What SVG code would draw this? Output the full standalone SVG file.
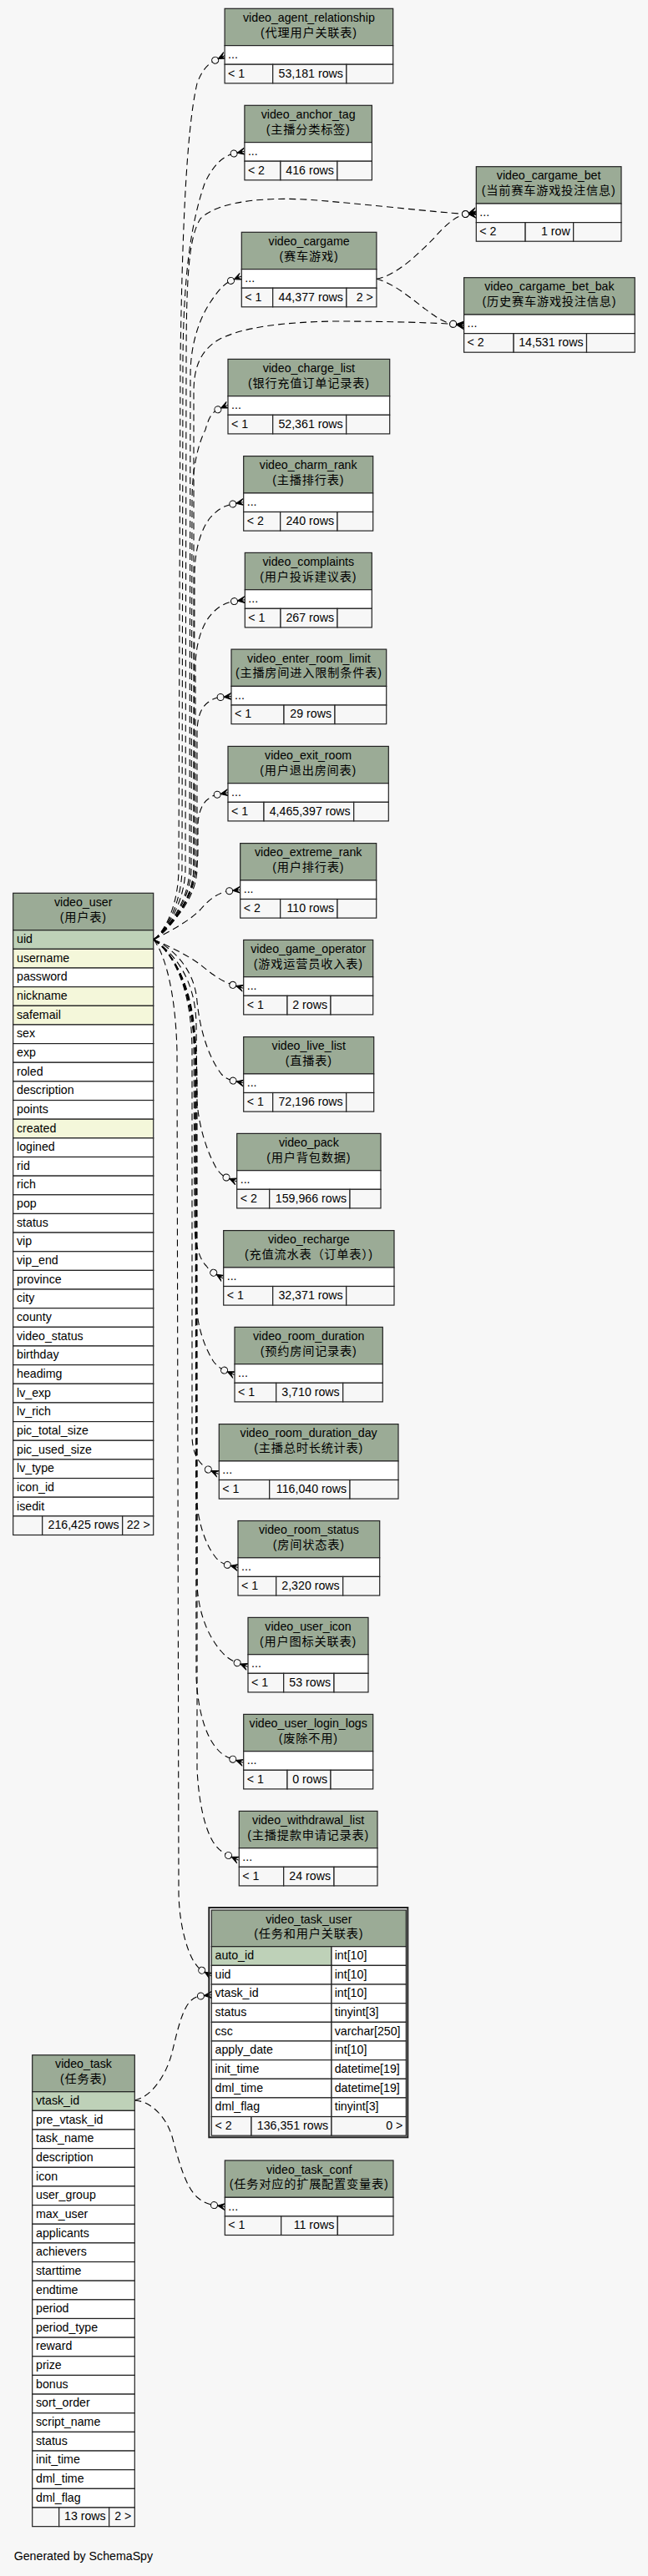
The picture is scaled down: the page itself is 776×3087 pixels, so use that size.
<svg xmlns="http://www.w3.org/2000/svg" width="776" height="3087" viewBox="0 0 776 3087">
<style>
.c{stroke:#222;stroke-width:1.2}
.h{fill:#9bab96}.w{fill:#fff}.f{fill:#f7f7f7}.pk{fill:#bed1b8}.ix{fill:#f4f7da}
text{font-family:"Liberation Sans",Arial,sans-serif;font-size:14.2px;fill:#000}
.z{font-family:"Liberation Sans","Noto Sans CJK SC",sans-serif;letter-spacing:.8px}
.m{text-anchor:middle}.r{text-anchor:end}
.e{fill:none;stroke:#000;stroke-width:1.1;stroke-dasharray:8 5;marker-end:url(#co)}
</style>
<defs>
<marker id="co" markerUnits="userSpaceOnUse" viewBox="-6 -6 22 12" markerWidth="22" markerHeight="12" refX="0" refY="0" orient="auto" overflow="visible">
<circle cx="0" cy="0" r="4" fill="#f7f7f7" stroke="#000" stroke-width="1"/>
<path d="M4,0 L13,-4 L8.5,0 L13,0 L8.5,0 L13,4 Z" fill="#000" stroke="#000" stroke-width="1" stroke-linejoin="round"/>
</marker>
</defs>
<rect width="776" height="3087" fill="#f7f7f7"/>
<g id="connectors">
<path class="e" d="M184,1126 C200,1114 214,1080 214,1040 L216,430 C218,300 222,160 236,100 C241,86 248,77 257.7,72.2"/>
<path class="e" d="M184,1126 C200,1114 218,1080 218,1040 L219,430 C220,330 228,270 245,220 C254,200 266,187 280.1,184"/>
<path class="e" d="M184,1126 C200,1114 222,1080 222,1040 L223,440 C223,330 226,285 240,262 C265,238 330,236 380,240 C450,246 520,254 557.4,256.5"/>
<path class="e" d="M184,1126 C200,1114 227,1080 227,1040 L228,450 C228,410 240,380 252,362 C260,350 268,340 276.5,336.4"/>
<path class="e" d="M184,1126 C200,1114 232,1080 232,1040 L232,470 C232,440 240,420 262,407 C290,392 340,386 400,385 C470,385 520,387 542.6,388.3"/>
<path class="e" d="M450.9,334.3 C475,330 500,305 520,285 C535,268 545,260 557.4,256.5"/>
<path class="e" d="M450.9,334.3 C475,340 500,365 520,378 C528,384 535,387 542.6,388.3"/>
<path class="e" d="M184,1126 C200,1114 229,1080 229,1040 L230,600 C230,560 238,530 246,515 C250,500 254,494 260.9,490.8"/>
<path class="e" d="M184,1126 C200,1114 232,1080 232,1040 L233,690 C233,660 240,635 252,620 C260,611 268,606 278.8,604"/>
<path class="e" d="M184,1126 C200,1114 234,1080 234,1040 L234,800 C234,770 243,745 256,733 C263,726 271,722 280.5,720.6"/>
<path class="e" d="M184,1126 C200,1114 236,1080 236,1040 L236,880 C236,860 240,848 250,841 C254,838 258,836 264.1,835.5"/>
<path class="e" d="M184,1126 C205,1115 237,1070 237,1020 L237,990 C237,975 242,962 250,957 C253,954.5 256,953 260.2,952.2"/>
<path class="e" d="M184,1126 C205,1115 225,1105 240,1090 C250,1078 262,1069 274.7,1067.7"/>
<path class="e" d="M184,1126 C205,1135 225,1145 240,1156 C252,1166 265,1176 278.8,1180.3"/>
<path class="e" d="M184,1126 C205,1135 233,1160 236,1200 C240,1240 252,1270 265,1287 C270,1292 274,1294 279.1,1295.1"/>
<path class="e" d="M184,1126 C205,1140 235,1170 235,1230 L236,1320 C238,1350 248,1380 258,1398 C262,1405 266,1409 271,1411"/>
<path class="e" d="M184,1126 C205,1140 232,1180 232,1250 L233,1470 C234,1495 240,1510 247,1517 C250,1521 252,1523 255.7,1525.2"/>
<path class="e" d="M184,1126 C205,1140 234,1180 234,1260 L235,1560 C236,1590 245,1615 256,1632 C260,1637 264,1640 268.6,1642.1"/>
<path class="e" d="M184,1126 C205,1140 230,1180 230,1260 L230,1720 C230,1738 236,1750 243,1756 C245,1758 247,1760 249.3,1761"/>
<path class="e" d="M184,1126 C205,1140 234,1180 234,1270 L235,1790 C236,1820 245,1850 258,1866 C262,1871 267,1874 272.3,1875.3"/>
<path class="e" d="M184,1126 C205,1140 235,1180 235,1280 L236,1900 C238,1935 250,1962 265,1979 C271,1986 277,1990 284.1,1992.7"/>
<path class="e" d="M184,1126 C205,1140 234,1180 234,1290 L235,2010 C237,2050 246,2080 260,2096 C266,2103 272,2106 278.8,2108.2"/>
<path class="e" d="M184,1126 C205,1140 236,1180 236,1300 L236,2120 C238,2160 245,2190 255,2207 C260,2215 266,2220 273.5,2223.5"/>
<path class="e" d="M184,1126 C195,1140 210,1180 212,1260 L214,2270 C215,2310 225,2340 233,2352 C236,2356 238,2359 241.7,2361.2"/>
<path class="e" d="M161.3,2517 C180,2513 198,2490 206,2460 C212,2435 218,2408 228,2398 C232,2394 236,2392.5 240.4,2392"/>
<path class="e" d="M161.3,2517 C180,2518 198,2535 206,2560 C214,2590 222,2620 236,2633 C243,2639 249,2641.5 256.5,2642.6"/>
</g>

<g id="video_agent_relationship">
<rect class="c h" x="269.1" y="10.3" width="201.6" height="44.3"/><rect class="c w" x="269.1" y="54.6" width="201.6" height="22.6"/>
<rect class="c f" x="269.1" y="77.2" width="57.6" height="22.6"/><rect class="c f" x="326.7" y="77.2" width="88.2" height="22.6"/><rect class="c f" x="414.9" y="77.2" width="55.8" height="22.6"/>
<text class="m" x="369.9" y="25.8">video_agent_relationship</text><text class="z m" x="369.9" y="43.6">(代理用户关联表)</text>
<text x="273.1" y="69.9">...</text><text x="273.1" y="92.5">&lt; 1</text><text class="r" x="410.9" y="92.5">53,181 rows</text>
</g>
<g id="video_anchor_tag">
<rect class="c h" x="292.9" y="126.3" width="152.5" height="44.3"/><rect class="c w" x="292.9" y="170.6" width="152.5" height="22.6"/>
<rect class="c f" x="292.9" y="193.2" width="43" height="22.6"/><rect class="c f" x="335.9" y="193.2" width="68" height="22.6"/><rect class="c f" x="403.9" y="193.2" width="41.5" height="22.6"/>
<text class="m" x="369.15" y="141.8">video_anchor_tag</text><text class="z m" x="369.15" y="159.6">(主播分类标签)</text>
<text x="296.9" y="185.9">...</text><text x="296.9" y="208.5">&lt; 2</text><text class="r" x="399.9" y="208.5">416 rows</text>
</g>
<g id="video_cargame_bet">
<rect class="c h" x="570.3" y="199.7" width="173.7" height="44.3"/><rect class="c w" x="570.3" y="244" width="173.7" height="22.6"/>
<rect class="c f" x="570.3" y="266.6" width="58.8" height="22.6"/><rect class="c f" x="629.1" y="266.6" width="57.6" height="22.6"/><rect class="c f" x="686.7" y="266.6" width="57.3" height="22.6"/>
<text class="m" x="657.15" y="215.2">video_cargame_bet</text><text class="z m" x="657.15" y="233">(当前赛车游戏投注信息)</text>
<text x="574.3" y="259.3">...</text><text x="574.3" y="281.9">&lt; 2</text><text class="r" x="682.7" y="281.9">1 row</text>
</g>
<g id="video_cargame">
<rect class="c h" x="289.3" y="278.3" width="161.6" height="44.3"/><rect class="c w" x="289.3" y="322.6" width="161.6" height="22.6"/>
<rect class="c f" x="289.3" y="345.2" width="37.4" height="22.6"/><rect class="c f" x="326.7" y="345.2" width="88.2" height="22.6"/><rect class="c f" x="414.9" y="345.2" width="36" height="22.6"/>
<text class="m" x="370.1" y="293.8">video_cargame</text><text class="z m" x="370.1" y="311.6">(赛车游戏)</text>
<text x="293.3" y="337.9">...</text><text x="293.3" y="360.5">&lt; 1</text><text class="r" x="410.9" y="360.5">44,377 rows</text><text class="r" x="446.9" y="360.5">2 &gt;</text>
</g>
<g id="video_cargame_bet_bak">
<rect class="c h" x="555.6" y="332.7" width="204.6" height="44.3"/><rect class="c w" x="555.6" y="377" width="204.6" height="22.6"/>
<rect class="c f" x="555.6" y="399.6" width="59.5" height="22.6"/><rect class="c f" x="615.1" y="399.6" width="87.4" height="22.6"/><rect class="c f" x="702.5" y="399.6" width="57.7" height="22.6"/>
<text class="m" x="657.9" y="348.2">video_cargame_bet_bak</text><text class="z m" x="657.9" y="366">(历史赛车游戏投注信息)</text>
<text x="559.6" y="392.3">...</text><text x="559.6" y="414.9">&lt; 2</text><text class="r" x="698.5" y="414.9">14,531 rows</text>
</g>
<g id="video_charge_list">
<rect class="c h" x="273" y="430.4" width="193.7" height="44.3"/><rect class="c w" x="273" y="474.7" width="193.7" height="22.6"/>
<rect class="c f" x="273" y="497.3" width="53.7" height="22.6"/><rect class="c f" x="326.7" y="497.3" width="88" height="22.6"/><rect class="c f" x="414.7" y="497.3" width="52" height="22.6"/>
<text class="m" x="369.85" y="445.9">video_charge_list</text><text class="z m" x="369.85" y="463.7">(银行充值订单记录表)</text>
<text x="277" y="490">...</text><text x="277" y="512.6">&lt; 1</text><text class="r" x="410.7" y="512.6">52,361 rows</text>
</g>
<g id="video_charm_rank">
<rect class="c h" x="291.7" y="546.6" width="155" height="44.3"/><rect class="c w" x="291.7" y="590.9" width="155" height="22.6"/>
<rect class="c f" x="291.7" y="613.5" width="44" height="22.6"/><rect class="c f" x="335.7" y="613.5" width="68.3" height="22.6"/><rect class="c f" x="404" y="613.5" width="42.7" height="22.6"/>
<text class="m" x="369.2" y="562.1">video_charm_rank</text><text class="z m" x="369.2" y="579.9">(主播排行表)</text>
<text x="295.7" y="606.2">...</text><text x="295.7" y="628.8">&lt; 2</text><text class="r" x="400" y="628.8">240 rows</text>
</g>
<g id="video_complaints">
<rect class="c h" x="293.3" y="662.4" width="152" height="44.3"/><rect class="c w" x="293.3" y="706.7" width="152" height="22.6"/>
<rect class="c f" x="293.3" y="729.3" width="42.7" height="22.6"/><rect class="c f" x="336" y="729.3" width="68" height="22.6"/><rect class="c f" x="404" y="729.3" width="41.3" height="22.6"/>
<text class="m" x="369.3" y="677.9">video_complaints</text><text class="z m" x="369.3" y="695.7">(用户投诉建议表)</text>
<text x="297.3" y="722">...</text><text x="297.3" y="744.6">&lt; 1</text><text class="r" x="400" y="744.6">267 rows</text>
</g>
<g id="video_enter_room_limit">
<rect class="c h" x="277" y="778.1" width="185.7" height="44.3"/><rect class="c w" x="277" y="822.4" width="185.7" height="22.6"/>
<rect class="c f" x="277" y="845" width="63" height="22.6"/><rect class="c f" x="340" y="845" width="61" height="22.6"/><rect class="c f" x="401" y="845" width="61.7" height="22.6"/>
<text class="m" x="369.85" y="793.6">video_enter_room_limit</text><text class="z m" x="369.85" y="811.4">(主播房间进入限制条件表)</text>
<text x="281" y="837.7">...</text><text x="281" y="860.3">&lt; 1</text><text class="r" x="397" y="860.3">29 rows</text>
</g>
<g id="video_exit_room">
<rect class="c h" x="273" y="894.4" width="192.3" height="44.3"/><rect class="c w" x="273" y="938.7" width="192.3" height="22.6"/>
<rect class="c f" x="273" y="961.3" width="43" height="22.6"/><rect class="c f" x="316" y="961.3" width="107.7" height="22.6"/><rect class="c f" x="423.7" y="961.3" width="41.6" height="22.6"/>
<text class="m" x="369.15" y="909.9">video_exit_room</text><text class="z m" x="369.15" y="927.7">(用户退出房间表)</text>
<text x="277" y="954">...</text><text x="277" y="976.6">&lt; 1</text><text class="r" x="419.7" y="976.6">4,465,397 rows</text>
</g>
<g id="video_extreme_rank">
<rect class="c h" x="287.7" y="1010.6" width="163" height="44.3"/><rect class="c w" x="287.7" y="1054.9" width="163" height="22.6"/>
<rect class="c f" x="287.7" y="1077.5" width="48" height="22.6"/><rect class="c f" x="335.7" y="1077.5" width="68.3" height="22.6"/><rect class="c f" x="404" y="1077.5" width="46.7" height="22.6"/>
<text class="m" x="369.2" y="1026.1">video_extreme_rank</text><text class="z m" x="369.2" y="1043.9">(用户排行表)</text>
<text x="291.7" y="1070.2">...</text><text x="291.7" y="1092.8">&lt; 2</text><text class="r" x="400" y="1092.8">110 rows</text>
</g>
<g id="video_game_operator">
<rect class="c h" x="291.7" y="1126.4" width="155" height="44.3"/><rect class="c w" x="291.7" y="1170.7" width="155" height="22.6"/>
<rect class="c f" x="291.7" y="1193.3" width="52.3" height="22.6"/><rect class="c f" x="344" y="1193.3" width="52" height="22.6"/><rect class="c f" x="396" y="1193.3" width="50.7" height="22.6"/>
<text class="m" x="369.2" y="1141.9">video_game_operator</text><text class="z m" x="369.2" y="1159.7">(游戏运营员收入表)</text>
<text x="295.7" y="1186">...</text><text x="295.7" y="1208.6">&lt; 1</text><text class="r" x="392" y="1208.6">2 rows</text>
</g>
<g id="video_live_list">
<rect class="c h" x="291.7" y="1242.6" width="156" height="44.3"/><rect class="c w" x="291.7" y="1286.9" width="156" height="22.6"/>
<rect class="c f" x="291.7" y="1309.5" width="35" height="22.6"/><rect class="c f" x="326.7" y="1309.5" width="88" height="22.6"/><rect class="c f" x="414.7" y="1309.5" width="33" height="22.6"/>
<text class="m" x="369.7" y="1258.1">video_live_list</text><text class="z m" x="369.7" y="1275.9">(直播表)</text>
<text x="295.7" y="1302.2">...</text><text x="295.7" y="1324.8">&lt; 1</text><text class="r" x="410.7" y="1324.8">72,196 rows</text>
</g>
<g id="video_pack">
<rect class="c h" x="283.7" y="1358.4" width="172.3" height="44.3"/><rect class="c w" x="283.7" y="1402.7" width="172.3" height="22.6"/>
<rect class="c f" x="283.7" y="1425.3" width="39" height="22.6"/><rect class="c f" x="322.7" y="1425.3" width="96.3" height="22.6"/><rect class="c f" x="419" y="1425.3" width="37" height="22.6"/>
<text class="m" x="369.85" y="1373.9">video_pack</text><text class="z m" x="369.85" y="1391.7">(用户背包数据)</text>
<text x="287.7" y="1418">...</text><text x="287.7" y="1440.6">&lt; 2</text><text class="r" x="415" y="1440.6">159,966 rows</text>
</g>
<g id="video_recharge">
<rect class="c h" x="267.7" y="1474.6" width="204.3" height="44.3"/><rect class="c w" x="267.7" y="1518.9" width="204.3" height="22.6"/>
<rect class="c f" x="267.7" y="1541.5" width="59" height="22.6"/><rect class="c f" x="326.7" y="1541.5" width="88" height="22.6"/><rect class="c f" x="414.7" y="1541.5" width="57.3" height="22.6"/>
<text class="m" x="369.85" y="1490.1">video_recharge</text><text class="z m" x="369.85" y="1507.9">(充值流水表（订单表）)</text>
<text x="271.7" y="1534.2">...</text><text x="271.7" y="1556.8">&lt; 1</text><text class="r" x="410.7" y="1556.8">32,371 rows</text>
</g>
<g id="video_room_duration">
<rect class="c h" x="281" y="1590.4" width="177.3" height="44.3"/><rect class="c w" x="281" y="1634.7" width="177.3" height="22.6"/>
<rect class="c f" x="281" y="1657.3" width="49.7" height="22.6"/><rect class="c f" x="330.7" y="1657.3" width="80" height="22.6"/><rect class="c f" x="410.7" y="1657.3" width="47.6" height="22.6"/>
<text class="m" x="369.65" y="1605.9">video_room_duration</text><text class="z m" x="369.65" y="1623.7">(预约房间记录表)</text>
<text x="285" y="1650">...</text><text x="285" y="1672.6">&lt; 1</text><text class="r" x="406.7" y="1672.6">3,710 rows</text>
</g>
<g id="video_room_duration_day">
<rect class="c h" x="262.3" y="1706.6" width="214.7" height="44.3"/><rect class="c w" x="262.3" y="1750.9" width="214.7" height="22.6"/>
<rect class="c f" x="262.3" y="1773.5" width="60.4" height="22.6"/><rect class="c f" x="322.7" y="1773.5" width="96.3" height="22.6"/><rect class="c f" x="419" y="1773.5" width="58" height="22.6"/>
<text class="m" x="369.65" y="1722.1">video_room_duration_day</text><text class="z m" x="369.65" y="1739.9">(主播总时长统计表)</text>
<text x="266.3" y="1766.2">...</text><text x="266.3" y="1788.8">&lt; 1</text><text class="r" x="415" y="1788.8">116,040 rows</text>
</g>
<g id="video_room_status">
<rect class="c h" x="285" y="1822.5" width="169.7" height="44.3"/><rect class="c w" x="285" y="1866.8" width="169.7" height="22.6"/>
<rect class="c f" x="285" y="1889.4" width="45.7" height="22.6"/><rect class="c f" x="330.7" y="1889.4" width="80" height="22.6"/><rect class="c f" x="410.7" y="1889.4" width="44" height="22.6"/>
<text class="m" x="369.85" y="1838">video_room_status</text><text class="z m" x="369.85" y="1855.8">(房间状态表)</text>
<text x="289" y="1882.1">...</text><text x="289" y="1904.7">&lt; 1</text><text class="r" x="406.7" y="1904.7">2,320 rows</text>
</g>
<g id="video_user_icon">
<rect class="c h" x="297" y="1938.4" width="144" height="44.3"/><rect class="c w" x="297" y="1982.7" width="144" height="22.6"/>
<rect class="c f" x="297" y="2005.3" width="42.7" height="22.6"/><rect class="c f" x="339.7" y="2005.3" width="60.3" height="22.6"/><rect class="c f" x="400" y="2005.3" width="41" height="22.6"/>
<text class="m" x="369" y="1953.9">video_user_icon</text><text class="z m" x="369" y="1971.7">(用户图标关联表)</text>
<text x="301" y="1998">...</text><text x="301" y="2020.6">&lt; 1</text><text class="r" x="396" y="2020.6">53 rows</text>
</g>
<g id="video_user_login_logs">
<rect class="c h" x="291.7" y="2054.4" width="155" height="44.3"/><rect class="c w" x="291.7" y="2098.7" width="155" height="22.6"/>
<rect class="c f" x="291.7" y="2121.3" width="52.3" height="22.6"/><rect class="c f" x="344" y="2121.3" width="52" height="22.6"/><rect class="c f" x="396" y="2121.3" width="50.7" height="22.6"/>
<text class="m" x="369.2" y="2069.9">video_user_login_logs</text><text class="z m" x="369.2" y="2087.7">(废除不用)</text>
<text x="295.7" y="2114">...</text><text x="295.7" y="2136.6">&lt; 1</text><text class="r" x="392" y="2136.6">0 rows</text>
</g>
<g id="video_withdrawal_list">
<rect class="c h" x="286.3" y="2170.4" width="165.7" height="44.3"/><rect class="c w" x="286.3" y="2214.7" width="165.7" height="22.6"/>
<rect class="c f" x="286.3" y="2237.3" width="53.4" height="22.6"/><rect class="c f" x="339.7" y="2237.3" width="60.3" height="22.6"/><rect class="c f" x="400" y="2237.3" width="52" height="22.6"/>
<text class="m" x="369.15" y="2185.9">video_withdrawal_list</text><text class="z m" x="369.15" y="2203.7">(主播提款申请记录表)</text>
<text x="290.3" y="2230">...</text><text x="290.3" y="2252.6">&lt; 1</text><text class="r" x="396" y="2252.6">24 rows</text>
</g>
<g id="video_task_conf">
<rect class="c h" x="269.3" y="2589" width="201.7" height="44.3"/><rect class="c w" x="269.3" y="2633.3" width="201.7" height="22.6"/>
<rect class="c f" x="269.3" y="2655.9" width="67.4" height="22.6"/><rect class="c f" x="336.7" y="2655.9" width="67.6" height="22.6"/><rect class="c f" x="404.3" y="2655.9" width="66.7" height="22.6"/>
<text class="m" x="370.15" y="2604.5">video_task_conf</text><text class="z m" x="370.15" y="2622.3">(任务对应的扩展配置变量表)</text>
<text x="273.3" y="2648.6">...</text><text x="273.3" y="2671.2">&lt; 1</text><text class="r" x="400.3" y="2671.2">11 rows</text>
</g>

<g id="video_task_user">
<rect x="250.3" y="2286" width="238" height="275.3" fill="none" stroke="#222" stroke-width="2"/>
<rect class="c h" x="253.3" y="2289" width="233" height="43.7"/>
<rect class="c pk" x="253.3" y="2332.7" width="143.7" height="22.65"/><rect class="c w" x="397" y="2332.7" width="89.3" height="22.65"/>
<rect class="c w" x="253.3" y="2355.35" width="143.7" height="22.65"/><rect class="c w" x="397" y="2355.35" width="89.3" height="22.65"/>
<rect class="c w" x="253.3" y="2378" width="143.7" height="22.65"/><rect class="c w" x="397" y="2378" width="89.3" height="22.65"/>
<rect class="c w" x="253.3" y="2400.65" width="143.7" height="22.65"/><rect class="c w" x="397" y="2400.65" width="89.3" height="22.65"/>
<rect class="c w" x="253.3" y="2423.3" width="143.7" height="22.65"/><rect class="c w" x="397" y="2423.3" width="89.3" height="22.65"/>
<rect class="c w" x="253.3" y="2445.95" width="143.7" height="22.65"/><rect class="c w" x="397" y="2445.95" width="89.3" height="22.65"/>
<rect class="c w" x="253.3" y="2468.6" width="143.7" height="22.65"/><rect class="c w" x="397" y="2468.6" width="89.3" height="22.65"/>
<rect class="c w" x="253.3" y="2491.25" width="143.7" height="22.65"/><rect class="c w" x="397" y="2491.25" width="89.3" height="22.65"/>
<rect class="c w" x="253.3" y="2513.9" width="143.7" height="22.65"/><rect class="c w" x="397" y="2513.9" width="89.3" height="22.65"/>
<rect class="c f" x="253.3" y="2536.55" width="47.7" height="22.65"/><rect class="c f" x="301" y="2536.55" width="96" height="22.65"/><rect class="c f" x="397" y="2536.55" width="89.3" height="22.65"/>
<text class="m" x="369.8" y="2304.5">video_task_user</text><text class="z m" x="369.8" y="2322.3">(任务和用户关联表)</text>
<text x="257.5" y="2348">auto_id</text><text x="400.7" y="2348">int[10]</text>
<text x="257.5" y="2370.65">uid</text><text x="400.7" y="2370.65">int[10]</text>
<text x="257.5" y="2393.3">vtask_id</text><text x="400.7" y="2393.3">int[10]</text>
<text x="257.5" y="2415.95">status</text><text x="400.7" y="2415.95">tinyint[3]</text>
<text x="257.5" y="2438.6">csc</text><text x="400.7" y="2438.6">varchar[250]</text>
<text x="257.5" y="2461.25">apply_date</text><text x="400.7" y="2461.25">int[10]</text>
<text x="257.5" y="2483.9">init_time</text><text x="400.7" y="2483.9">datetime[19]</text>
<text x="257.5" y="2506.55">dml_time</text><text x="400.7" y="2506.55">datetime[19]</text>
<text x="257.5" y="2529.2">dml_flag</text><text x="400.7" y="2529.2">tinyint[3]</text>
<text x="257.5" y="2551.85">&lt; 2</text><text class="r" x="393" y="2551.85">136,351 rows</text><text class="r" x="482.3" y="2551.85">0 &gt;</text>
</g>

<g id="video_user">
<rect class="c h" x="15.7" y="1070.3" width="168" height="44.4"/>
<rect class="c pk" x="15.7" y="1114.7" width="168" height="22.65"/>
<rect class="c ix" x="15.7" y="1137.35" width="168" height="22.65"/>
<rect class="c w" x="15.7" y="1160" width="168" height="22.65"/>
<rect class="c ix" x="15.7" y="1182.65" width="168" height="22.65"/>
<rect class="c ix" x="15.7" y="1205.3" width="168" height="22.65"/>
<rect class="c w" x="15.7" y="1227.95" width="168" height="22.65"/>
<rect class="c w" x="15.7" y="1250.6" width="168" height="22.65"/>
<rect class="c w" x="15.7" y="1273.25" width="168" height="22.65"/>
<rect class="c w" x="15.7" y="1295.9" width="168" height="22.65"/>
<rect class="c w" x="15.7" y="1318.55" width="168" height="22.65"/>
<rect class="c ix" x="15.7" y="1341.2" width="168" height="22.65"/>
<rect class="c w" x="15.7" y="1363.85" width="168" height="22.65"/>
<rect class="c w" x="15.7" y="1386.5" width="168" height="22.65"/>
<rect class="c w" x="15.7" y="1409.15" width="168" height="22.65"/>
<rect class="c w" x="15.7" y="1431.8" width="168" height="22.65"/>
<rect class="c w" x="15.7" y="1454.45" width="168" height="22.65"/>
<rect class="c w" x="15.7" y="1477.1" width="168" height="22.65"/>
<rect class="c w" x="15.7" y="1499.75" width="168" height="22.65"/>
<rect class="c w" x="15.7" y="1522.4" width="168" height="22.65"/>
<rect class="c w" x="15.7" y="1545.05" width="168" height="22.65"/>
<rect class="c w" x="15.7" y="1567.7" width="168" height="22.65"/>
<rect class="c w" x="15.7" y="1590.35" width="168" height="22.65"/>
<rect class="c w" x="15.7" y="1613" width="168" height="22.65"/>
<rect class="c w" x="15.7" y="1635.65" width="168" height="22.65"/>
<rect class="c w" x="15.7" y="1658.3" width="168" height="22.65"/>
<rect class="c w" x="15.7" y="1680.95" width="168" height="22.65"/>
<rect class="c w" x="15.7" y="1703.6" width="168" height="22.65"/>
<rect class="c w" x="15.7" y="1726.25" width="168" height="22.65"/>
<rect class="c w" x="15.7" y="1748.9" width="168" height="22.65"/>
<rect class="c w" x="15.7" y="1771.55" width="168" height="22.65"/>
<rect class="c w" x="15.7" y="1794.2" width="168" height="22.65"/>
<rect class="c f" x="15.7" y="1816.85" width="35" height="22.65"/><rect class="c f" x="50.7" y="1816.85" width="96" height="22.65"/><rect class="c f" x="146.7" y="1816.85" width="37" height="22.65"/>
<text class="m" x="99.7" y="1085.8">video_user</text><text class="z m" x="99.7" y="1103.6">(用户表)</text>
<text x="20" y="1130">uid</text>
<text x="20" y="1152.65">username</text>
<text x="20" y="1175.3">password</text>
<text x="20" y="1197.95">nickname</text>
<text x="20" y="1220.6">safemail</text>
<text x="20" y="1243.25">sex</text>
<text x="20" y="1265.9">exp</text>
<text x="20" y="1288.55">roled</text>
<text x="20" y="1311.2">description</text>
<text x="20" y="1333.85">points</text>
<text x="20" y="1356.5">created</text>
<text x="20" y="1379.15">logined</text>
<text x="20" y="1401.8">rid</text>
<text x="20" y="1424.45">rich</text>
<text x="20" y="1447.1">pop</text>
<text x="20" y="1469.75">status</text>
<text x="20" y="1492.4">vip</text>
<text x="20" y="1515.05">vip_end</text>
<text x="20" y="1537.7">province</text>
<text x="20" y="1560.35">city</text>
<text x="20" y="1583">county</text>
<text x="20" y="1605.65">video_status</text>
<text x="20" y="1628.3">birthday</text>
<text x="20" y="1650.95">headimg</text>
<text x="20" y="1673.6">lv_exp</text>
<text x="20" y="1696.25">lv_rich</text>
<text x="20" y="1718.9">pic_total_size</text>
<text x="20" y="1741.55">pic_used_size</text>
<text x="20" y="1764.2">lv_type</text>
<text x="20" y="1786.85">icon_id</text>
<text x="20" y="1809.5">isedit</text>
<text class="r" x="142.7" y="1832.15">216,425 rows</text><text class="r" x="179.7" y="1832.15">22 &gt;</text>
</g>

<g id="video_task">
<rect class="c h" x="38.7" y="2462.7" width="122.6" height="44"/>
<rect class="c pk" x="38.7" y="2506.7" width="122.6" height="22.65"/>
<rect class="c w" x="38.7" y="2529.35" width="122.6" height="22.65"/>
<rect class="c w" x="38.7" y="2552" width="122.6" height="22.65"/>
<rect class="c w" x="38.7" y="2574.65" width="122.6" height="22.65"/>
<rect class="c w" x="38.7" y="2597.3" width="122.6" height="22.65"/>
<rect class="c w" x="38.7" y="2619.95" width="122.6" height="22.65"/>
<rect class="c w" x="38.7" y="2642.6" width="122.6" height="22.65"/>
<rect class="c w" x="38.7" y="2665.25" width="122.6" height="22.65"/>
<rect class="c w" x="38.7" y="2687.9" width="122.6" height="22.65"/>
<rect class="c w" x="38.7" y="2710.55" width="122.6" height="22.65"/>
<rect class="c w" x="38.7" y="2733.2" width="122.6" height="22.65"/>
<rect class="c w" x="38.7" y="2755.85" width="122.6" height="22.65"/>
<rect class="c w" x="38.7" y="2778.5" width="122.6" height="22.65"/>
<rect class="c w" x="38.7" y="2801.15" width="122.6" height="22.65"/>
<rect class="c w" x="38.7" y="2823.8" width="122.6" height="22.65"/>
<rect class="c w" x="38.7" y="2846.45" width="122.6" height="22.65"/>
<rect class="c w" x="38.7" y="2869.1" width="122.6" height="22.65"/>
<rect class="c w" x="38.7" y="2891.75" width="122.6" height="22.65"/>
<rect class="c w" x="38.7" y="2914.4" width="122.6" height="22.65"/>
<rect class="c w" x="38.7" y="2937.05" width="122.6" height="22.65"/>
<rect class="c w" x="38.7" y="2959.7" width="122.6" height="22.65"/>
<rect class="c w" x="38.7" y="2982.35" width="122.6" height="22.65"/>
<rect class="c f" x="38.7" y="3005" width="32" height="22.65"/><rect class="c f" x="70.7" y="3005" width="60" height="22.65"/><rect class="c f" x="130.7" y="3005" width="30.6" height="22.65"/>
<text class="m" x="100" y="2478.2">video_task</text><text class="z m" x="100" y="2496">(任务表)</text>
<text x="43" y="2522">vtask_id</text>
<text x="43" y="2544.65">pre_vtask_id</text>
<text x="43" y="2567.3">task_name</text>
<text x="43" y="2589.95">description</text>
<text x="43" y="2612.6">icon</text>
<text x="43" y="2635.25">user_group</text>
<text x="43" y="2657.9">max_user</text>
<text x="43" y="2680.55">applicants</text>
<text x="43" y="2703.2">achievers</text>
<text x="43" y="2725.85">starttime</text>
<text x="43" y="2748.5">endtime</text>
<text x="43" y="2771.15">period</text>
<text x="43" y="2793.8">period_type</text>
<text x="43" y="2816.45">reward</text>
<text x="43" y="2839.1">prize</text>
<text x="43" y="2861.75">bonus</text>
<text x="43" y="2884.4">sort_order</text>
<text x="43" y="2907.05">script_name</text>
<text x="43" y="2929.7">status</text>
<text x="43" y="2952.35">init_time</text>
<text x="43" y="2975">dml_time</text>
<text x="43" y="2997.65">dml_flag</text>
<text class="r" x="126.7" y="3020.3">13 rows</text><text class="r" x="157.3" y="3020.3">2 &gt;</text>
</g>

<text x="16.7" y="3068">Generated by SchemaSpy</text>
</svg>
